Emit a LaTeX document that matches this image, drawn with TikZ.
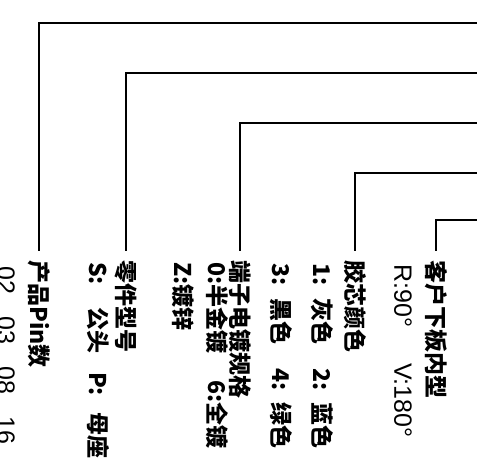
\documentclass[tikz,border=0pt]{standalone}
\usepackage{fontspec}
\newfontfamily\cjk{Noto Sans CJK SC}
\newfontfamily\latinsans{Liberation Sans}

\tikzset{
  leader/.style={line width=1.4pt},
  title/.style={rotate=-90,anchor=west,inner sep=0pt,font=\cjk\bfseries\fontsize{23}{23}\selectfont},
  info/.style={rotate=-90,anchor=west,inner sep=0pt,font=\cjk\bfseries\fontsize{23}{23}\selectfont},
  value/.style={rotate=-90,anchor=west,inner sep=0pt,font=\latinsans\fontsize{25}{25}\selectfont}
}
\newcommand{\twoitems}[3]{\makebox[#1][l]{#2}#3}

\begin{document}
\begin{tikzpicture}[x=1pt,y=-1pt]
\useasboundingbox (0,0) rectangle (477,472);

% field names
\node[title] (pins)  at (39,260)  {产品Pin数};
\node[title] (part)  at (126,260) {零件型号};
\node[title] (plate) at (240,260) {端子电镀规格};
\node[title] (color) at (355,260) {胶芯颜色};
\node[title] (board) at (436,260) {客户下板内型};

% choices
\node[value] (pinsval)  at (6,266)   {\makebox[50pt][l]{02}\makebox[50pt][l]{03}\makebox[50pt][l]{08}16};
\node[info]  (partval)  at (98,262)  {\twoitems{110pt}{\makebox[45pt][l]{S:}公头}{\makebox[40pt][l]{P:}母座}};
\node[info]  (plateva)  at (217,262) {\twoitems{118pt}{0:半金镀}{6:全镀}};
\node[info]  (platevb)  at (183,262) {Z:镀锌};
\node[info]  (colorva)  at (322,263) {\twoitems{105pt}{\makebox[35pt][l]{1:}灰色}{\makebox[34pt][l]{2:}蓝色}};
\node[info]  (colorvb)  at (281,263) {\twoitems{105pt}{\makebox[35pt][l]{3:}黑色}{\makebox[34pt][l]{4:}绿色}};
\node[value] (boardval) at (403,264) {\twoitems{99pt}{R:90°}{V:180°}};

% leaders from the right edge
\coordinate (pinsend)  at (477,23);
\coordinate (partend)  at (477,73);
\coordinate (plateend) at (477,123);
\coordinate (colorend) at (477,173);
\coordinate (boardend) at (477,220);
\draw[leader] (pinsend)  -| ([yshift=9pt]pins.west);
\draw[leader] (partend)  -| ([yshift=9pt]part.west);
\draw[leader] (plateend) -| ([yshift=9pt]plate.west);
\draw[leader] (colorend) -| ([yshift=9pt]color.west);
\draw[leader] (boardend) -| ([yshift=9pt]board.west);
\end{tikzpicture}
\end{document}
